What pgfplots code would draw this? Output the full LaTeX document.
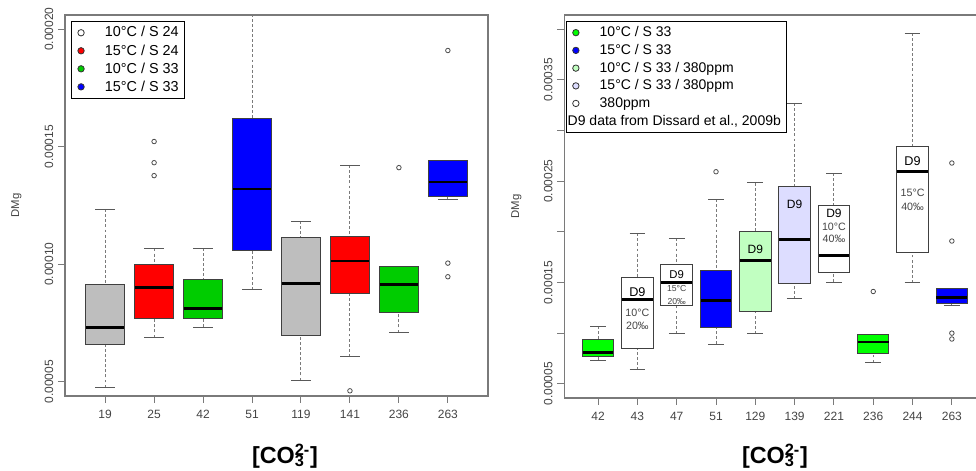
\documentclass[border=0pt]{standalone}
\usepackage{fontspec}
\setmainfont{Liberation Sans}
\usepackage{pgfplots}
\pgfplotsset{compat=1.18}
\usepgfplotslibrary{statistics}

\definecolor{rgray}{HTML}{BEBEBE}
\definecolor{rred}{HTML}{FF0000}
\definecolor{rgreenA}{HTML}{00CC00}
\definecolor{rgreenB}{HTML}{00FF00}
\definecolor{rblue}{HTML}{0000FF}
\definecolor{rlgreen}{HTML}{C1FFC1}
\definecolor{rlav}{HTML}{DDDDFF}
\definecolor{axgray}{HTML}{7A7A7A}
\definecolor{txtgray}{HTML}{444444}

\pgfplotsset{
  rbox/.style={
    forget plot,
    boxplot/draw direction=y,
    boxplot/box extend=0.8,
    boxplot/draw/box/.code={\draw[fill=#1,draw=black!75,line width=0.75pt] (boxplot box cs:\pgfplotsboxplotvalue{lower quartile},0) rectangle (boxplot box cs:\pgfplotsboxplotvalue{upper quartile},1);},
    boxplot/draw/median/.code={\draw[black,line width=2.1pt] (boxplot box cs:\pgfplotsboxplotvalue{median},0.01) -- (boxplot box cs:\pgfplotsboxplotvalue{median},0.99);},
    boxplot/draw/lower whisker/.code={\draw[axgray,line width=0.75pt,dash pattern=on 2.2pt off 1.6pt] (boxplot box cs:\pgfplotsboxplotvalue{lower whisker},0.5) -- (boxplot box cs:\pgfplotsboxplotvalue{lower quartile},0.5);
      \draw[black!65,line width=0.75pt] (boxplot box cs:\pgfplotsboxplotvalue{lower whisker},0.25) -- (boxplot box cs:\pgfplotsboxplotvalue{lower whisker},0.75);},
    boxplot/draw/upper whisker/.code={\draw[axgray,line width=0.75pt,dash pattern=on 2.2pt off 1.6pt] (boxplot box cs:\pgfplotsboxplotvalue{upper whisker},0.5) -- (boxplot box cs:\pgfplotsboxplotvalue{upper quartile},0.5);
      \draw[black!65,line width=0.75pt] (boxplot box cs:\pgfplotsboxplotvalue{upper whisker},0.25) -- (boxplot box cs:\pgfplotsboxplotvalue{upper whisker},0.75);},
    mark=o, mark size=1.7pt, mark options={solid,draw=black!70,line width=0.6pt},
  },
  lgc/.style={legend image code/.code={\draw[fill=#1,draw=black!80,line width=0.6pt] (0pt,0pt) circle (2.4pt); \path (-4pt,0pt) (16pt,0pt);}},
  common/.style={
    scale only axis, clip=true,
    axis line style={axgray,line width=0.8pt},
    tick align=outside, major tick length=5.25pt,
    tick style={axgray,line width=0.75pt},
    xtick pos=left, ytick pos=left,
    tick label style={font=\fontsize{9}{10}\selectfont, text=txtgray},
    yticklabel style={rotate=90,anchor=south},
    xticklabel style={yshift=-2pt},
    ylabel={DMg},
    xlabel={\textbf{[CO\rlap{\textsubscript{3}}\textsuperscript{2-}]}},
    legend cell align=left,
    legend style={draw=black,line width=0.75pt,font=\fontsize{10.8}{12}\selectfont,
      row sep=1.2pt,inner xsep=3pt,inner ysep=2.5pt,nodes={inner sep=1.5pt}},
  },
}

\begin{document}
\begin{tikzpicture}
\useasboundingbox (0pt,0pt) rectangle (732pt,353.25pt);
\clip (0pt,0pt) rectangle (732pt,353.25pt);

% ---------------- left panel ----------------
\begin{axis}[common,
  at={(48.75pt,56.25pt)}, anchor=south west,
  width=317.25pt, height=285.75pt,
  xmin=0.18, xmax=8.82, ymin=4.4, ymax=20.6,
  xtick={1,...,8},
  xticklabels={\mbox{19},\mbox{25},\mbox{42},\mbox{51},\mbox{119},\mbox{141},\mbox{236},\mbox{263}},
  ytick={5,10,15,20},
  yticklabels={\mbox{0.00005},\mbox{0.00010},\mbox{0.00015},\mbox{0.00020}},
  every axis y label/.style={at={(axis description cs:0,0.5)},xshift=-36.4pt,rotate=90,anchor=center,font=\fontsize{8.5}{10}\selectfont,text=txtgray},
  every axis x label/.style={at={(axis description cs:0.52,0)},yshift=-45pt,anchor=center,font=\fontsize{17.5}{19}\selectfont},
  legend style={at={(0.0135,0.985)},anchor=north west},
]
\addlegendimage{lgc=white}\addlegendentry{10°C / S 24}
\addlegendimage{lgc=rred}\addlegendentry{15°C / S 24}
\addlegendimage{lgc=rgreenA}\addlegendentry{10°C / S 33}
\addlegendimage{lgc=rblue}\addlegendentry{15°C / S 33}

\addplot[rbox=rgray, boxplot prepared={draw position=1, lower whisker=4.76, lower quartile=6.61, median=7.32, upper quartile=9.15, upper whisker=12.34}] coordinates {};
\addplot[rbox=rred, boxplot prepared={draw position=2, lower whisker=6.89, lower quartile=7.70, median=9.03, upper quartile=10.00, upper whisker=10.67}] coordinates {(2,15.22) (2,14.32) (2,13.77)};
\addplot[rbox=rgreenA, boxplot prepared={draw position=3, lower whisker=7.33, lower quartile=7.70, median=8.12, upper quartile=9.35, upper whisker=10.69}] coordinates {};
\addplot[rbox=rblue, boxplot prepared={draw position=4, lower whisker=8.92, lower quartile=10.60, median=13.20, upper quartile=16.20, upper whisker=23.23}] coordinates {};
\addplot[rbox=rgray, boxplot prepared={draw position=5, lower whisker=5.06, lower quartile=6.98, median=9.20, upper quartile=11.13, upper whisker=11.83}] coordinates {};
\addplot[rbox=rred, boxplot prepared={draw position=6, lower whisker=6.07, lower quartile=8.74, median=10.14, upper quartile=11.18, upper whisker=14.21}] coordinates {(6,4.62)};
\addplot[rbox=rgreenA, boxplot prepared={draw position=7, lower whisker=7.10, lower quartile=7.96, median=9.13, upper quartile=9.90, upper whisker=9.90}] coordinates {(7,14.11)};
\addplot[rbox=rblue, boxplot prepared={draw position=8, lower whisker=12.77, lower quartile=12.89, median=13.50, upper quartile=14.42, upper whisker=14.42}] coordinates {(8,19.09) (8,10.05) (8,9.47)};
\end{axis}

% ---------------- right panel ----------------
\begin{axis}[common,
  at={(423.2pt,54.75pt)}, anchor=south west,
  width=316.05pt, height=287.25pt,
  xmin=0.14, xmax=10.86, ymin=3.6, ymax=41.4,
  xtick={1,...,10},
  xticklabels={\mbox{42},\mbox{43},\mbox{47},\mbox{51},\mbox{129},\mbox{139},\mbox{221},\mbox{236},\mbox{244},\mbox{263}},
  ytick={5,10,15,20,25,30,35,40},
  yticklabels={\mbox{0.00005},{},\mbox{0.00015},{},\mbox{0.00025},{},\mbox{0.00035},{}},
  every axis y label/.style={at={(axis description cs:0,0.5)},xshift=-35.85pt,rotate=90,anchor=center,font=\fontsize{8.5}{10}\selectfont,text=txtgray},
  every axis x label/.style={at={(axis description cs:0.5,0)},yshift=-43.5pt,anchor=center,font=\fontsize{17.5}{19}\selectfont},
  legend style={at={(0.003,0.985)},anchor=north west,font=\fontsize{10.5}{12}\selectfont},
]
\addlegendimage{lgc=rgreenB}\addlegendentry{10°C / S 33}
\addlegendimage{lgc=rblue}\addlegendentry{15°C / S 33}
\addlegendimage{lgc=rlgreen}\addlegendentry{10°C / S 33 / 380ppm}
\addlegendimage{lgc=rlav}\addlegendentry{15°C / S 33 / 380ppm}
\addlegendimage{lgc=white}\addlegendentry{380ppm}
\addlegendimage{empty legend}\addlegendentry{\hspace*{-24pt}D9 data from Dissard et al., 2009b}

\addplot[rbox=rgreenB, boxplot prepared={draw position=1, lower whisker=7.33, lower quartile=7.70, median=8.12, upper quartile=9.35, upper whisker=10.69}] coordinates {};
\addplot[rbox=white, boxplot prepared={draw position=2, lower whisker=6.38, lower quartile=8.52, median=13.29, upper quartile=15.46, upper whisker=19.85}] coordinates {};
\addplot[rbox=white, boxplot prepared={draw position=3, lower whisker=9.94, lower quartile=12.70, median=15.00, upper quartile=16.75, upper whisker=19.35}] coordinates {};
\addplot[rbox=rblue, boxplot prepared={draw position=4, lower whisker=8.92, lower quartile=10.60, median=13.20, upper quartile=16.20, upper whisker=23.23}] coordinates {(4,25.93)};
\addplot[rbox=rlgreen, boxplot prepared={draw position=5, lower whisker=9.94, lower quartile=12.18, median=17.18, upper quartile=20.00, upper whisker=24.84}] coordinates {};
\addplot[rbox=rlav, boxplot prepared={draw position=6, lower whisker=13.39, lower quartile=14.91, median=19.22, upper quartile=24.52, upper whisker=32.71}] coordinates {};
\addplot[rbox=white, boxplot prepared={draw position=7, lower whisker=15.04, lower quartile=15.96, median=17.64, upper quartile=22.57, upper whisker=25.80}] coordinates {};
\addplot[rbox=rgreenB, boxplot prepared={draw position=8, lower whisker=7.10, lower quartile=7.96, median=9.13, upper quartile=9.90, upper whisker=9.90}] coordinates {(8,14.11)};
\addplot[rbox=white, boxplot prepared={draw position=9, lower whisker=14.97, lower quartile=17.97, median=25.97, upper quartile=28.40, upper whisker=39.62}] coordinates {};
\addplot[rbox=rblue, boxplot prepared={draw position=10, lower whisker=12.77, lower quartile=12.89, median=13.50, upper quartile=14.42, upper whisker=14.42}] coordinates {(10,26.79) (10,19.09) (10,10.00) (10,9.42)};

% annotations inside the D9 boxes
\node[inner sep=0pt,font=\fontsize{9.5}{10}\selectfont] at (axis cs:2,14.05) {D9};
\node[inner sep=0pt,font=\fontsize{8}{9}\selectfont,text=txtgray] at (axis cs:2,12.05) {10°C};
\node[inner sep=0pt,font=\fontsize{8}{9}\selectfont,text=txtgray] at (axis cs:2,10.77) {20‰};
\node[inner sep=0pt,font=\fontsize{8.5}{9}\selectfont] at (axis cs:3,15.76) {D9};
\node[inner sep=0pt,font=\fontsize{6.5}{7}\selectfont,text=txtgray] at (axis cs:3,14.42) {15°C};
\node[inner sep=0pt,font=\fontsize{6.5}{7}\selectfont,text=txtgray] at (axis cs:3,13.13) {20‰};
\node[inner sep=0pt,font=\fontsize{9}{10}\selectfont] at (axis cs:5,18.3) {D9};
\node[inner sep=0pt,font=\fontsize{9}{10}\selectfont] at (axis cs:6,22.67) {D9};
\node[inner sep=0pt,font=\fontsize{9}{10}\selectfont] at (axis cs:7,21.82) {D9};
\node[inner sep=0pt,font=\fontsize{8}{9}\selectfont,text=txtgray] at (axis cs:7,20.5) {10°C};
\node[inner sep=0pt,font=\fontsize{8}{9}\selectfont,text=txtgray] at (axis cs:7,19.33) {40‰};
\node[inner sep=0pt,font=\fontsize{9.5}{10}\selectfont] at (axis cs:9,26.98) {D9};
\node[inner sep=0pt,font=\fontsize{8}{9}\selectfont,text=txtgray] at (axis cs:9,23.8) {15°C};
\node[inner sep=0pt,font=\fontsize{8}{9}\selectfont,text=txtgray] at (axis cs:9,22.51) {40‰};
\end{axis}
\end{tikzpicture}
\end{document}
